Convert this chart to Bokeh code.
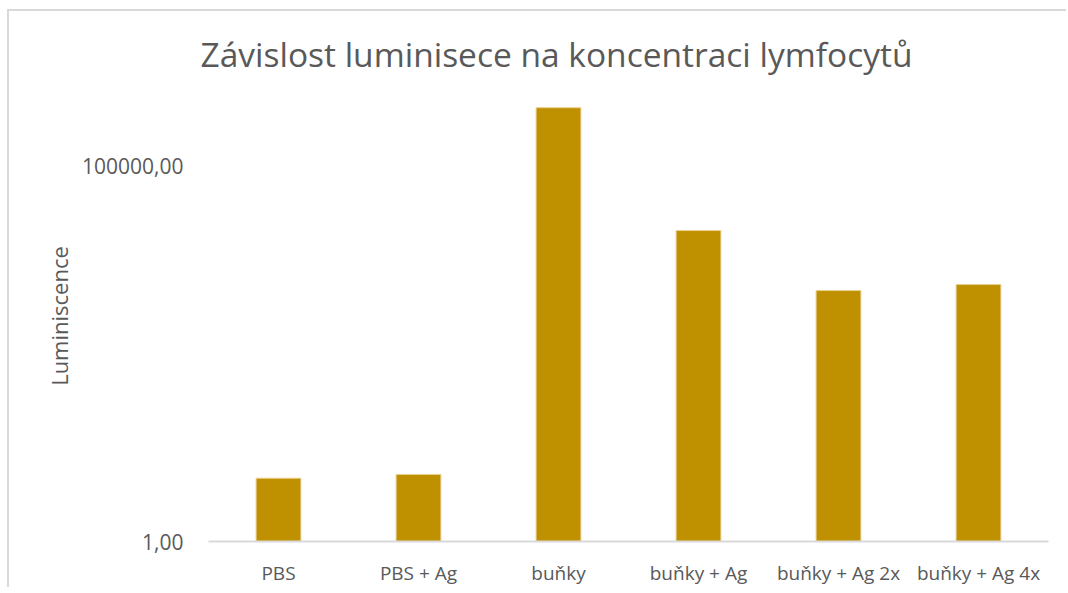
from bokeh.plotting import figure
from bokeh.models import FixedTicker, CustomJSTickFormatter, Range1d, ColumnDataSource
from bokeh.embed import file_html
from bokeh.resources import INLINE

categories = ["PBS", "PBS + Ag", "buňky", "buňky + Ag", "buňky + Ag 2x", "buňky + Ag 4x"]
luminiscence = [6.95, 7.8, 590000, 13700, 2180, 2620]
y_ticks = [1, 100000]

src = ColumnDataSource(dict(cat=categories, val=luminiscence, base=[1] * len(categories)))

p = figure(width=1059, height=578, x_range=categories, y_axis_type="log",
           y_range=Range1d(1, 1000000), output_backend="svg", toolbar_location=None,
           min_border_left=199, min_border_right=20, min_border_top=79, min_border_bottom=48)
p.styles = {"border-left": "2px solid #D9D9D9", "border-top": "2px solid #D9D9D9",
            "margin-left": "7px", "margin-top": "9px"}

p.vbar(x="cat", top="val", bottom="base", width=0.32, source=src,
       fill_color="#BF9000", line_color="#EBD08F", line_width=1)

p.title.text = "Závislost luminisece na koncentraci lymfocytů"
p.title.text_font = "Open Sans"
p.title.text_font_size = "33.5px"
p.title.text_font_style = "normal"
p.title.text_color = "#595959"
p.title.align = "left"
p.title.offset = -8
p.title.standoff = 28

p.outline_line_color = None
p.grid.grid_line_color = None

p.yaxis.ticker = FixedTicker(ticks=y_ticks, minor_ticks=[])
p.yaxis.formatter = CustomJSTickFormatter(code="return tick.toFixed(2).replace('.', ',');")
p.yaxis.axis_line_color = None
p.yaxis.major_tick_line_color = None
p.yaxis.minor_tick_line_color = None
p.yaxis.major_label_text_font = "Open Sans"
p.yaxis.major_label_text_font_size = "21px"
p.yaxis.major_label_text_color = "#595959"
p.yaxis.major_label_standoff = 19
p.yaxis.axis_label = "Luminiscence"
p.yaxis.axis_label_text_font = "Open Sans"
p.yaxis.axis_label_text_font_size = "22px"
p.yaxis.axis_label_text_font_style = "normal"
p.yaxis.axis_label_text_color = "#595959"
p.yaxis.axis_label_standoff = 5

p.xaxis.axis_line_color = "#D9D9D9"
p.xaxis.axis_line_width = 2
p.xaxis.major_tick_line_color = None
p.xaxis.minor_tick_line_color = None
p.xaxis.major_label_text_font = "Open Sans"
p.xaxis.major_label_text_font_size = "19px"
p.xaxis.major_label_text_color = "#595959"
p.xaxis.major_label_standoff = 12

open("out.html", "w").write(file_html(p, INLINE))
